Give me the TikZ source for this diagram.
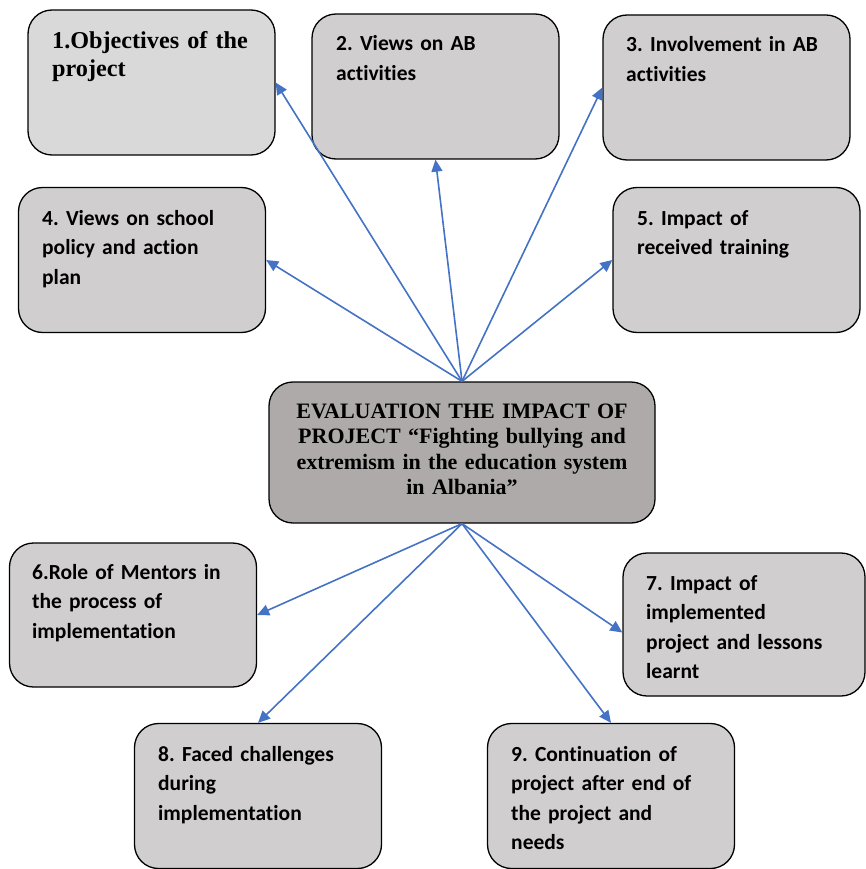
\documentclass[tikz,border=0pt]{standalone}
\usepackage{fontspec}
\setmainfont{Liberation Serif}
\newfontfamily\calib[Ligatures=NoCommon]{Carlito}
\usetikzlibrary{arrows.meta}
\definecolor{boxgray}{HTML}{D0CECE}
\definecolor{boxlight}{HTML}{D9D9D9}
\definecolor{centergray}{HTML}{AEAAAA}
\definecolor{arrowblue}{HTML}{4472C4}
\tikzset{
  box/.style={draw=black, line width=1.3pt, rounded corners=24pt, fill=boxgray,
    inner sep=0pt, minimum width=247pt, minimum height=145pt},
  cbox/.style={box, fill=centergray, minimum width=386pt, minimum height=141pt},
  ctext/.style={font=\calib\bfseries\frenchspacing\fontsize{21.5}{29.6}\selectfont, anchor=base west,
    inner sep=0pt, text width=240pt, align=left},
  ttext/.style={font=\bfseries\fontsize{24.2}{28}\selectfont, anchor=base west,
    inner sep=0pt, text width=240pt, align=left},
  mtext/.style={font=\bfseries\fontsize{22}{25.5}\selectfont, anchor=base,
    inner sep=0pt, text width=380pt, align=center},
  arr/.style={draw=arrowblue, line width=1.6pt, -{Triangle[length=12pt,width=11pt]}}
}
\begin{document}
\begin{tikzpicture}[x=1pt,y=-1pt]
\useasboundingbox (0,0) rectangle (865,869);
% boxes
\node[box, fill=boxlight] (b1) at (151.5,82.5) {};
\node[box] (b2) at (435.5,86.5) {};
\node[box] (b3) at (726.5,87.5) {};
\node[box] (b4) at (142,260) {};
\node[box] (b5) at (736.5,260) {};
\node[cbox] (c) at (462,452.5) {};
\node[box, minimum height=144pt] (b6) at (133,615) {};
\node[box, minimum width=242pt, minimum height=143pt] (b7) at (744,624.5) {};
\node[box] (b8) at (258,796) {};
\node[box] (b9) at (611,796) {};
% texts
\node[ttext] (t1) at (52,49) {1.Objectives of the\\project};
\node[ctext] (t2) at (336,51) {2. Views on AB\\activities};
\node[ctext] (t3) at (626,52) {3. Involvement in AB\\activities};
\node[ctext] (t4) at (42,225) {4. Views on school\\policy and action\\plan};
\node[ctext] (t5) at (637,225) {5. Impact of\\received training};
\node[mtext] (tc) at (462,418) {EVALUATION THE IMPACT OF\\PROJECT “Fighting bullying and\\extremism in the education system\\in Albania”};
\node[ctext] (t6) at (32,579) {6.Role of Mentors in\\the process of\\implementation};
\node[ctext] (t7) at (646,590) {7. Impact of\\implemented\\project and lessons\\learnt};
\node[ctext] (t8) at (158,761) {8. Faced challenges\\during\\implementation};
\node[ctext] (t9) at (511,761) {9. Continuation of\\project after end of\\the project and\\needs};
% arrows
\draw[arr] (c.north) -- (b1.east);
\draw[arr] (c.north) -- (b2.south);
\draw[arr] (c.north) -- (b3.west);
\draw[arr] (c.north) -- (b4.east);
\draw[arr] (c.north) -- (b5.west);
\draw[arr] (c.south) -- (b6.east);
\draw[arr] (c.south) -- ([yshift=-8pt]b7.west);
\draw[arr] (c.south) -- (b8.north);
\draw[arr] (c.south) -- (b9.north);
\end{tikzpicture}
\end{document}
